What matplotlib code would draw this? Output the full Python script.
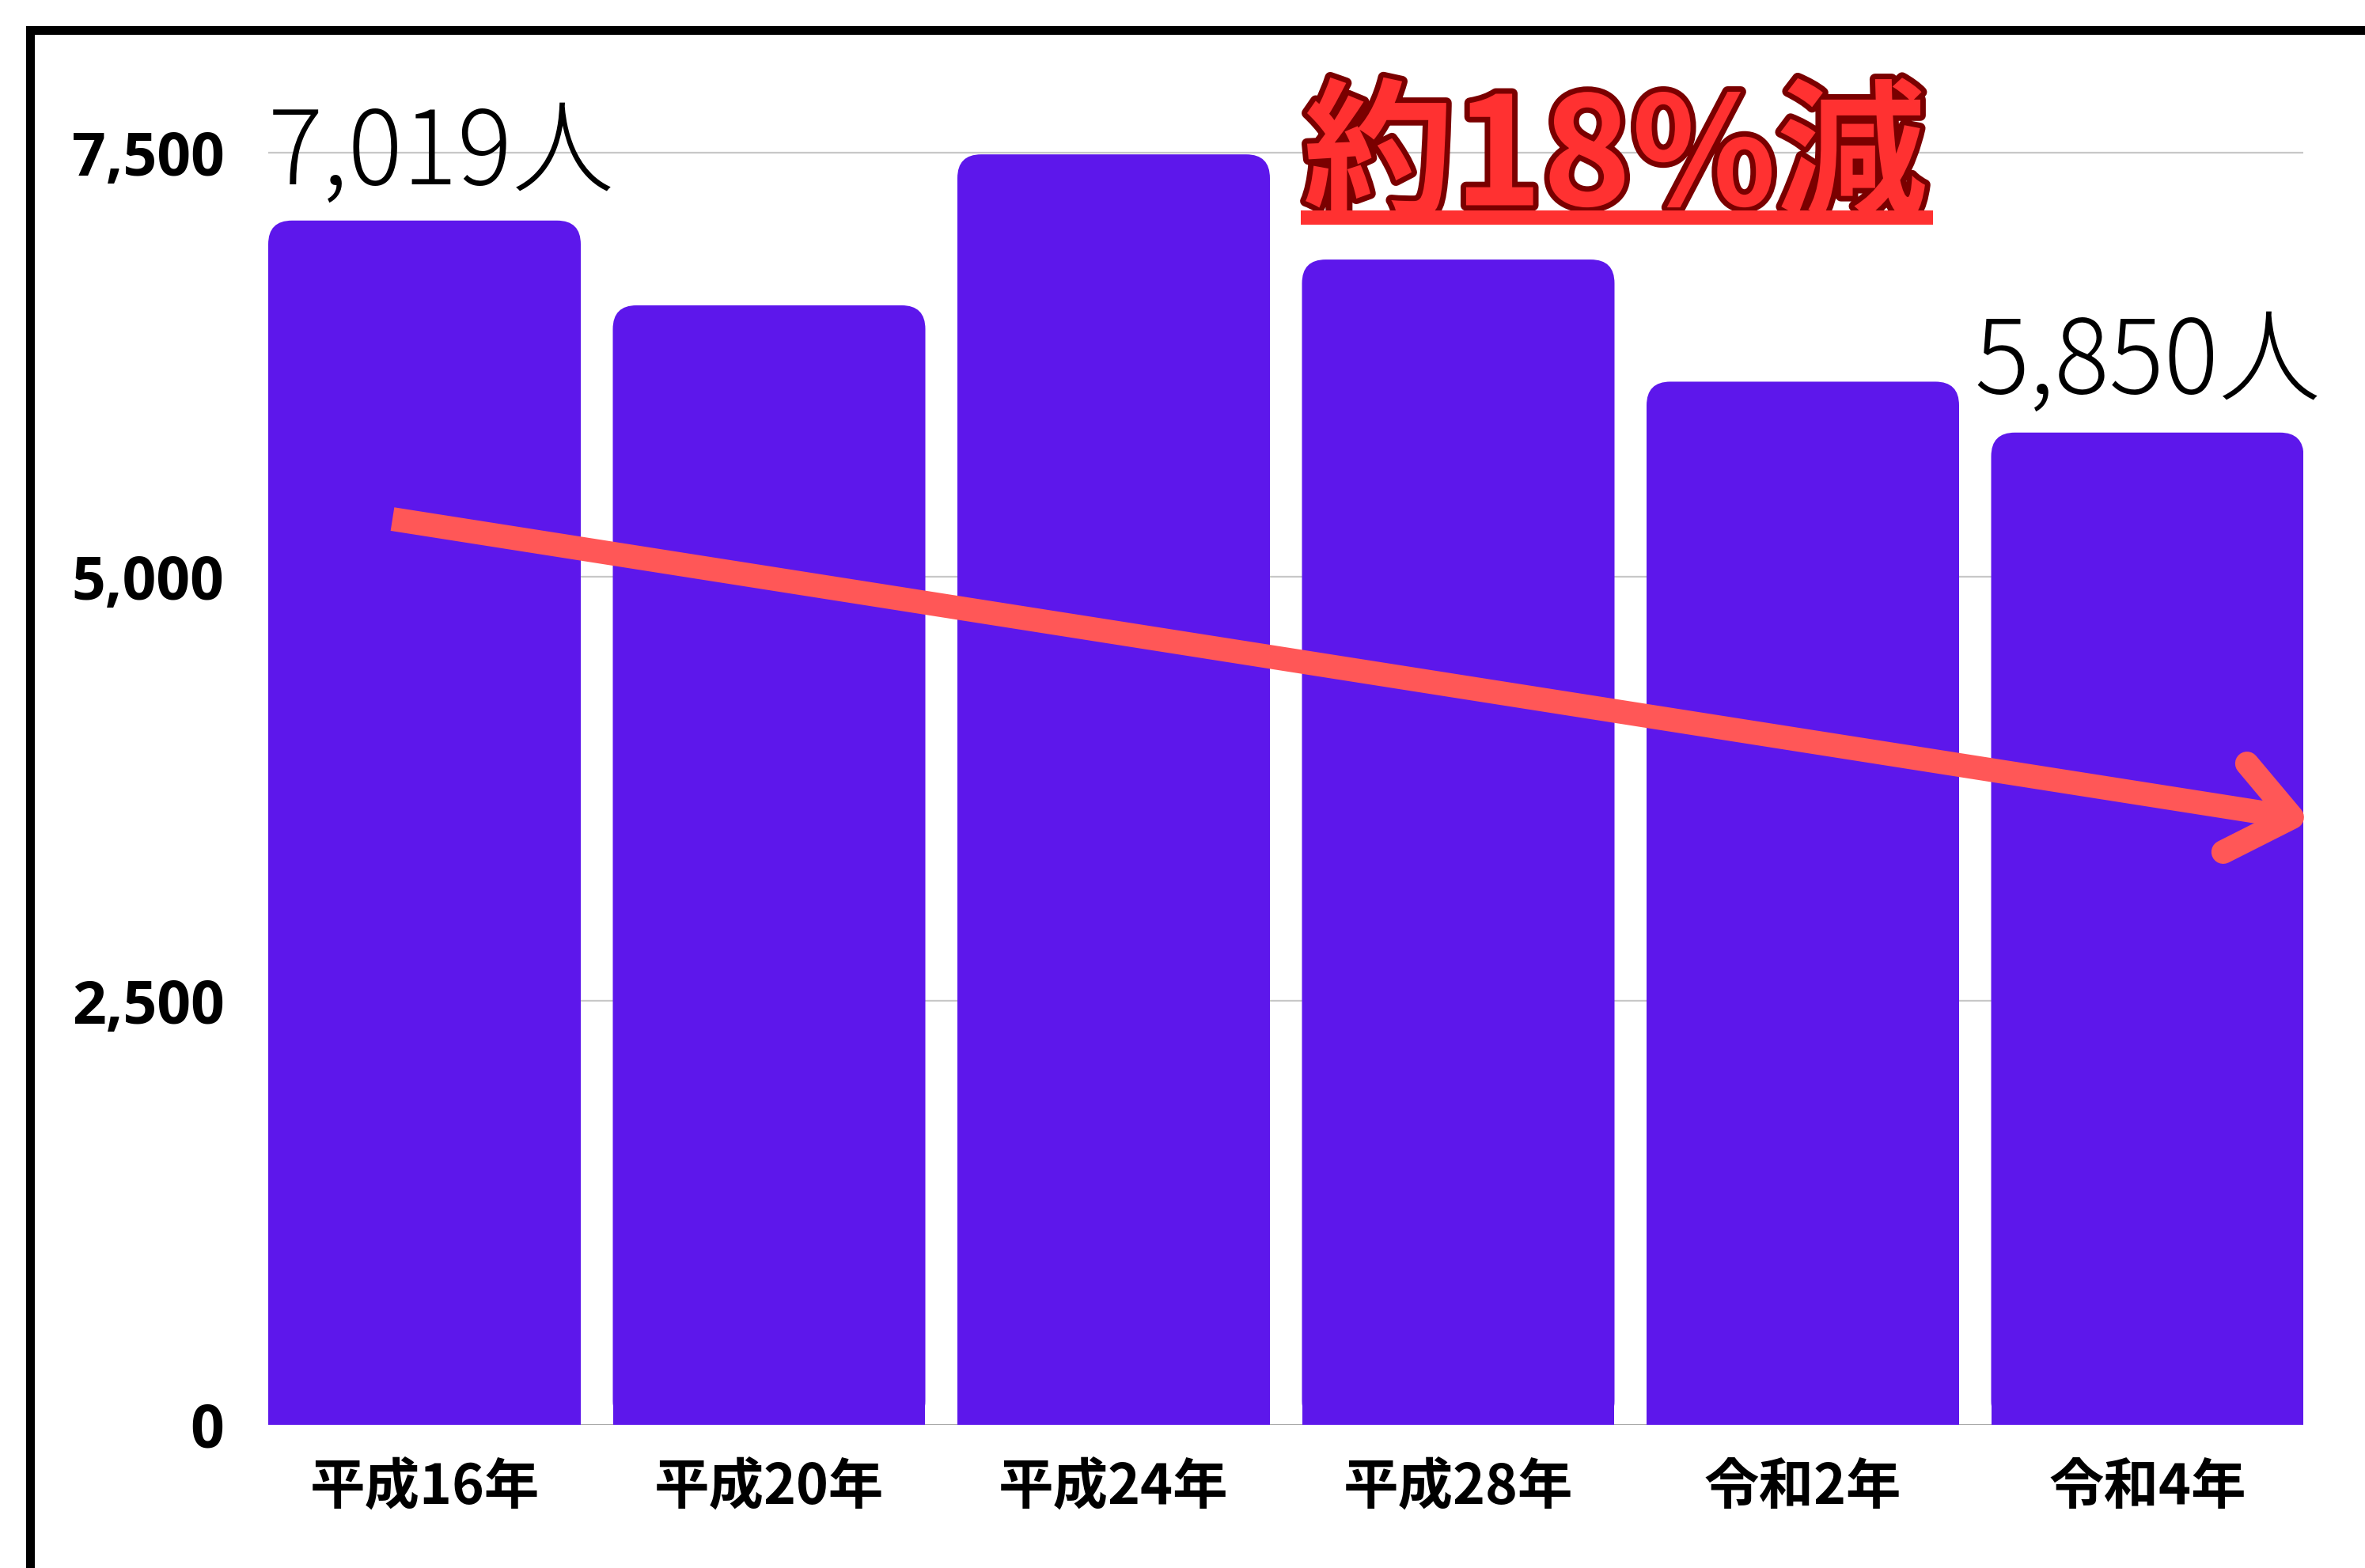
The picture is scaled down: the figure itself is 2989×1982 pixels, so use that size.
import matplotlib
matplotlib.use("Agg")
import matplotlib.pyplot as plt
from matplotlib.patches import FancyBboxPatch, Rectangle
from matplotlib.lines import Line2D
import matplotlib.patheffects as pe

# ---- data ----
categories = ["平成16年", "平成20年", "平成24年", "平成28年", "令和2年", "令和4年"]
values = [7100, 6600, 7490, 6870, 6150, 5850]
yticks = [0, 2500, 5000, 7500]
ytick_labels = ["0", "2,500", "5,000", "7,500"]
first_label = "7,019人"
last_label = "5,850人"
headline = "約18%減"

BAR = "#5D17EB"
ARROW = "#FF5757"
RED = "#FF3131"
DARKRED = "#7A0000"

plt.rcParams['font.family'] = ['Noto Sans CJK JP', 'DejaVu Sans']

W, H = 2989, 1982
fig = plt.figure(figsize=(W / 200, H / 200), dpi=200, facecolor="white")

px_per_x = 435.5
px_per_y = 0.2144
x_left_px, y0_px = 339, 1801
bar_w = 0.907
xlim = (-bar_w / 2, len(values) - 1 + bar_w / 2)
ylim = (0, 8000)
ax_w = (xlim[1] - xlim[0]) * px_per_x
ax_h = ylim[1] * px_per_y
ax = fig.add_axes([x_left_px / W, (H - y0_px) / H, ax_w / W, ax_h / H])
ax.set_xlim(*xlim)
ax.set_ylim(*ylim)

for s in ax.spines.values():
    s.set_visible(False)

# gridlines
for t in yticks[1:]:
    ax.axhline(t, color="#c8c8c8", lw=0.8, zorder=0)
ax.axhline(0, color="#8a8a8a", lw=0.9, zorder=0)

xs = list(range(len(categories)))
bars = ax.bar(xs, values, width=bar_w, color=BAR, zorder=2)
r_x = 30 / px_per_x
r_y = 30 / px_per_y
for b in bars:
    b.set_visible(False)
    x0, w, h = b.get_x(), b.get_width(), b.get_height()
    ax.add_patch(FancyBboxPatch((x0, 0), w, h,
                                boxstyle=f"round,pad=0,rounding_size={r_x}",
                                mutation_aspect=r_y / r_x, fc=BAR, ec="none", zorder=2))
    ax.add_patch(Rectangle((x0, 0), w, h / 2, fc=BAR, ec="none", zorder=2))

ax.set_xticks(xs)
ax.set_xticklabels(categories, fontsize=25, fontweight="bold", color="black")
ax.set_yticks(yticks)
ax.set_yticklabels(ytick_labels, fontsize=27, fontweight="bold", color="black",
                   family=["Open Sans", "DejaVu Sans"])
ax.tick_params(axis="x", length=0, pad=16)
ax.tick_params(axis="y", length=0, pad=20)

# value annotations
ax.text(xlim[0], 7313, first_label, fontsize=46.5, fontweight="light",
        ha="left", va="baseline", color="black", zorder=6, clip_on=False)
ax.text(4.497, 6082, last_label, fontsize=46.5, fontweight="light",
        ha="left", va="baseline", color="black", zorder=6, clip_on=False)

# headline
ax.text(2.55, 7190, headline, fontsize=68.5, fontweight="bold", color=RED,
        ha="left", va="baseline", zorder=7, clip_on=False,
        path_effects=[pe.withStroke(linewidth=5, foreground=DARKRED)])
ax.add_patch(Rectangle((2.543, 7076), 4.378 - 2.543, 84, fc=RED, ec="none",
                       zorder=8, clip_on=False))

# trend arrow
lw_arrow = 30 * 72 / 200
ax.plot([-0.093, 5.42], [5340, 3582], color=ARROW, lw=lw_arrow,
        solid_capstyle="butt", zorder=5, clip_on=False)
ax.plot([5.289, 5.42, 5.220], [3899, 3582, 3377], color=ARROW, lw=lw_arrow,
        solid_capstyle="round", solid_joinstyle="round", zorder=5, clip_on=False)

# black frame (left and top)
lw_frame = 11 * 72 / 200
fig.add_artist(Line2D([38 / W, 38 / W], [0, 1 - 38 / H], color="black",
                      lw=lw_frame, solid_capstyle="projecting"))
fig.add_artist(Line2D([38 / W, 1], [1 - 38 / H, 1 - 38 / H], color="black",
                      lw=lw_frame, solid_capstyle="projecting"))

fig.savefig("out.png", dpi=200, facecolor="white")
